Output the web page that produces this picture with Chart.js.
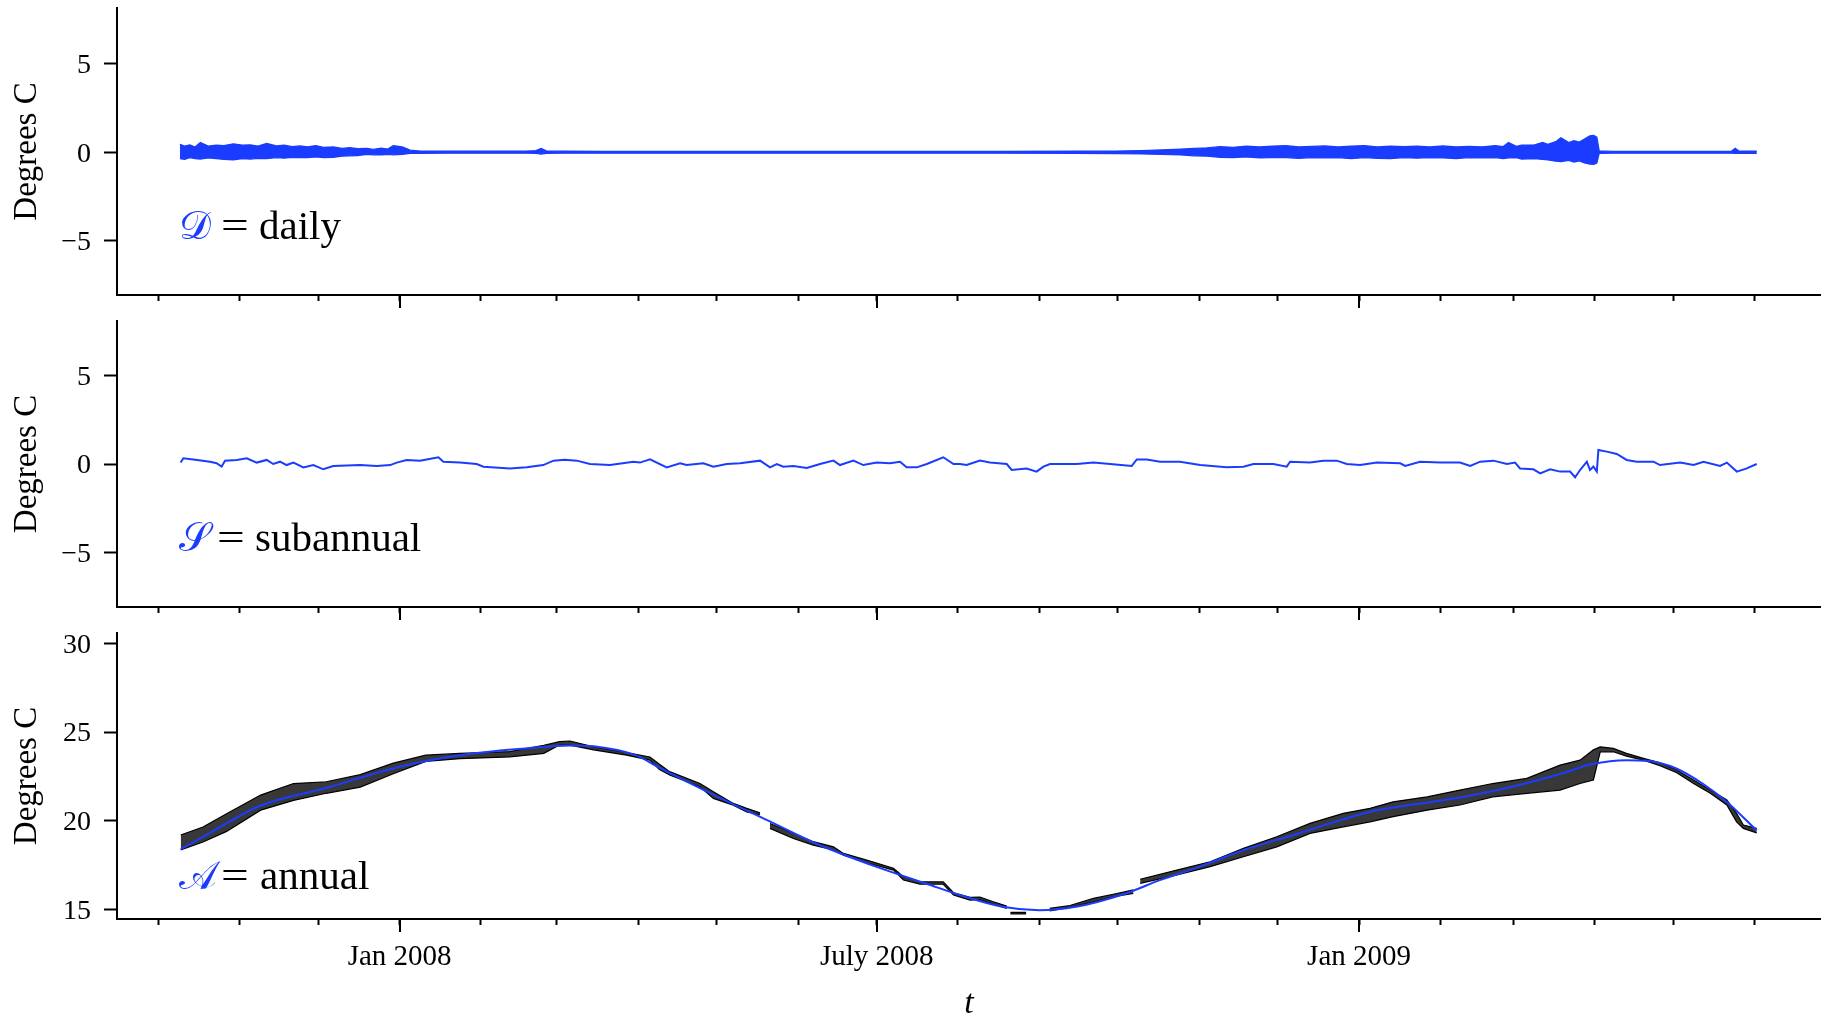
<!DOCTYPE html>
<html>
<head>
<meta charset="utf-8">
<script src="https://cdn.jsdelivr.net/npm/chart.js@4.4.1/dist/chart.umd.min.js"></script>
<style>
  html, body { margin: 0; padding: 0; background: #fff; }
  body { width: 1832px; height: 1019px; position: relative; overflow: hidden; }
  canvas { position: absolute; left: 0; }
</style>
</head>
<body>
<canvas id="pDaily"></canvas>
<canvas id="pSub"></canvas>
<canvas id="pAnnual"></canvas>
<script>
// Time is measured in days since 1 Oct 2007.
const monthStarts = [
  '2007-10', '2007-11', '2007-12', '2008-01', '2008-02', '2008-03', '2008-04',
  '2008-05', '2008-06', '2008-07', '2008-08', '2008-09', '2008-10', '2008-11',
  '2008-12', '2009-01', '2009-02', '2009-03', '2009-04', '2009-05', '2009-06'
];
const monthLabels = { '2008-01': 'Jan 2008', '2008-07': 'July 2008', '2009-01': 'Jan 2009' };

const anomalyTicks = [-5, 0, 5];
const temperatureTicks = [15, 20, 25, 30];

// Daily component: upper / lower extent of the daily cycle.
const dailyDays = [
  8.2, 10, 12, 14, 16, 19, 22, 25, 28.6, 32,
  35, 38, 41.3, 45, 48, 51, 54, 57, 60, 63,
  66.7, 70, 73, 76, 79.5, 82, 85, 87.5, 89.6, 93,
  96, 100, 110, 120, 130, 140, 144, 146, 148, 155,
  170, 200, 230, 260, 290, 320, 350, 365, 375, 383,
  390, 395, 400, 405, 410, 415, 420, 425, 430, 435,
  440, 445, 450, 455, 460, 465, 470, 475, 480, 485,
  490, 495, 500, 505, 510, 513, 515, 518, 520, 525,
  528, 530, 533, 535, 538, 540, 542, 544, 546, 547.5,
  548.7, 549.6, 555, 570, 590, 600, 601.5, 603, 609.7
];
const dailyHigh = [
  0.45, 0.35, 0.42, 0.30, 0.55, 0.35, 0.40, 0.38, 0.48, 0.40,
  0.42, 0.35, 0.50, 0.36, 0.40, 0.32, 0.36, 0.30, 0.38, 0.28,
  0.30, 0.22, 0.26, 0.20, 0.22, 0.16, 0.24, 0.18, 0.38, 0.30,
  0.12, 0.07, 0.06, 0.07, 0.06, 0.06, 0.10, 0.22, 0.08, 0.06,
  0.05, 0.05, 0.05, 0.05, 0.05, 0.05, 0.06, 0.07, 0.10, 0.14,
  0.18, 0.22, 0.25, 0.32, 0.28, 0.35, 0.30, 0.34, 0.38, 0.30,
  0.33, 0.36, 0.30, 0.34, 0.38, 0.30, 0.35, 0.32, 0.34, 0.30,
  0.36, 0.30, 0.33, 0.30, 0.38, 0.32, 0.55, 0.33, 0.40, 0.42,
  0.55, 0.45, 0.60, 0.82, 0.55, 0.65, 0.58, 0.75, 0.92, 0.95,
  0.85, 0.08, 0.05, 0.05, 0.05, 0.06, 0.22, 0.06, 0.06
];
const dailyLow = [
  -0.35, -0.40, -0.30, -0.35, -0.38, -0.32, -0.35, -0.40, -0.42, -0.36,
  -0.38, -0.34, -0.36, -0.30, -0.33, -0.28, -0.30, -0.30, -0.26, -0.30,
  -0.28, -0.22, -0.20, -0.18, -0.12, -0.14, -0.15, -0.12, -0.14, -0.12,
  -0.06, -0.06, -0.05, -0.05, -0.05, -0.05, -0.06, -0.10, -0.06, -0.05,
  -0.05, -0.05, -0.05, -0.05, -0.05, -0.05, -0.06, -0.07, -0.09, -0.12,
  -0.15, -0.20, -0.22, -0.28, -0.30, -0.26, -0.32, -0.30, -0.30, -0.34,
  -0.30, -0.32, -0.30, -0.36, -0.30, -0.34, -0.36, -0.30, -0.33, -0.30,
  -0.32, -0.35, -0.30, -0.32, -0.30, -0.35, -0.32, -0.30, -0.38, -0.36,
  -0.40, -0.42, -0.50, -0.52, -0.45, -0.55, -0.48, -0.60, -0.66, -0.68,
  -0.60, -0.06, -0.05, -0.05, -0.05, -0.05, -0.06, -0.05, -0.06
];

// Subannual component.
const subDays = [
  8.5, 9.5, 13.3, 19.7, 22.2, 24.1, 25.4, 29.9, 33.7, 37.5,
  41.3, 43.8, 46.4, 48.9, 51.5, 55.3, 59.1, 62.9, 66.7, 71.8,
  76.9, 83.3, 88.4, 90.9, 94.7, 99.8, 102.3, 106.8, 108.7, 115,
  121.4, 124, 134.1, 140.5, 146.8, 150.7, 155, 159.6, 164.6, 172.3,
  181.2, 183.7, 187.5, 193.9, 199, 201.5, 207.9, 211.7, 216.8, 221.9,
  229.5, 233.3, 235.9, 238.4, 242.2, 247.3, 252.4, 257.5, 260, 265.1,
  268.9, 274, 279.1, 282.9, 285.4, 289.3, 293.1, 299.4, 303.3, 305.8,
  308.3, 313.4, 317.2, 323.6, 325.5, 331.2, 335, 337.6, 340.1, 350.3,
  356.7, 363, 371.3, 373.2, 377, 382.1, 389.7, 397.4, 407.5, 413.9,
  417.7, 425.3, 430.4, 431.7, 439.3, 444.4, 449.5, 453.3, 458.4, 464.8,
  473.7, 475.6, 481.3, 488.9, 496.5, 500.4, 504.2, 509.3, 514.4, 517.5,
  519.4, 524.5, 527.1, 530.9, 534.7, 538.5, 540.4, 542.3, 544.9, 546.1,
  547.4, 548.7, 549.3, 552.5, 556.3, 560.1, 563.9, 570.3, 572.8, 580.5,
  585.6, 589.4, 595.7, 598.3, 602.1, 605.9, 609.7
];
const subValues = [
  0.08, 0.32, 0.26, 0.13, 0.04, -0.15, 0.19, 0.23, 0.32, 0.08,
  0.23, 0.00, 0.13, -0.06, 0.08, -0.19, -0.06, -0.30, -0.11, -0.09,
  -0.06, -0.11, -0.06, 0.08, 0.23, 0.19, 0.26, 0.38, 0.13, 0.08,
  0.00, -0.15, -0.26, -0.19, -0.06, 0.19, 0.24, 0.19, 0.00, -0.06,
  0.13, 0.08, 0.26, -0.19, 0.04, -0.06, 0.04, -0.15, 0.00, 0.04,
  0.19, -0.19, 0.00, -0.15, -0.11, -0.23, 0.00, 0.19, -0.06, 0.19,
  -0.06, 0.08, 0.04, 0.13, -0.19, -0.19, 0.00, 0.38, 0.00, 0.00,
  -0.06, 0.19, 0.08, 0.00, -0.34, -0.26, -0.43, -0.15, 0.00, 0.00,
  0.08, 0.00, -0.11, 0.26, 0.26, 0.13, 0.13, -0.06, -0.19, -0.15,
  0.00, 0.00, -0.15, 0.13, 0.08, 0.19, 0.19, 0.00, -0.05, 0.08,
  0.04, -0.11, 0.13, 0.08, 0.08, -0.11, 0.13, 0.19, 0.00, 0.08,
  -0.25, -0.30, -0.53, -0.30, -0.43, -0.43, -0.75, -0.34, 0.13, -0.34,
  -0.15, -0.43, 0.79, 0.70, 0.57, 0.23, 0.13, 0.13, -0.06, 0.08,
  -0.06, 0.13, -0.11, 0.08, -0.43, -0.25, 0.00
];

// Annual component (smooth seasonal curve).
const annualDays = [
  8.5, 20, 38.8, 64, 92, 115, 140, 157, 166, 182,
  191, 212, 232, 252, 274, 293, 306, 322, 336, 350,
  369, 382, 397, 414, 433, 462, 478, 496, 516, 535,
  547, 560, 568, 579, 589, 598, 609.7
];
const annualValues = [
  18.40, 19.35, 20.85, 21.85, 23.05, 23.70, 24.08, 24.25, 24.20, 23.70,
  23.00, 21.45, 20.05, 18.65, 17.40, 16.45, 15.80, 15.15, 14.96, 15.15,
  15.90, 16.65, 17.40, 18.35, 19.20, 20.50, 20.90, 21.30, 21.90, 22.65,
  23.20, 23.42, 23.38, 22.95, 22.10, 21.10, 19.45
];

// Observed temperatures: lower / upper extent of the readings (null = no data).
const rawDays = [
  8.5, 17, 26, 39, 51.5, 64, 77, 89.6, 102, 115,
  134, 147, 153, 157, 166, 178.6, 187.5, 191, 195, 206.6,
  211.7, 219.3, 224.4, 229.5, 231, 233.3, 242.2, 249.8, 257.5, 261.3,
  270.2, 280.4, 284.2, 290.5, 299.4, 303.3, 309.6, 313.4, 318.5, 323.6,
  324.5, 325, 331, 332, 340, 347.7, 356.7, 365.6, 371.9, 373,
  374.5, 388.5, 401.2, 413.9, 426.6, 439.3, 452, 462.2, 471, 484,
  496.5, 509, 522, 534.7, 542.3, 547.4, 550, 555, 560, 566.5,
  572.8, 579.2, 585.6, 592, 598.3, 602, 604.6, 609.7
];
const rawLow = [
  18.35, 18.80, 19.40, 20.60, 21.15, 21.55, 21.90, 22.65, 23.35, 23.50,
  23.60, 23.80, 24.27, 24.27, 24.00, 23.70, 23.42, 22.90, 22.58, 21.92,
  21.26, 20.88, 20.50, 20.35, null, 19.57, 19.00, 18.63, 18.35, 18.06,
  17.63, 17.22, 16.66, 16.43, 16.42, 15.81, 15.53, 15.55, 15.30, 15.06,
  null, 14.75, 14.75, null, 14.92, 15.12, 15.43, 15.75, 15.90, null,
  16.47, 16.94, 17.41, 17.97, 18.53, 19.29, 19.66, 19.94, 20.23, 20.60,
  20.89, 21.35, 21.55, 21.73, 22.10, 22.30, 23.89, 23.89, 23.65, 23.42,
  23.10, 22.71, 22.10, 21.55, 20.89, 19.94, 19.57, 19.32
];
const rawHigh = [
  19.20, 19.65, 20.40, 21.45, 22.10, 22.20, 22.60, 23.25, 23.70, 23.80,
  23.90, 24.25, 24.46, 24.50, 24.17, 23.85, 23.60, 23.20, 22.77, 22.10,
  21.64, 20.98, 20.70, 20.45, null, 19.85, 19.30, 18.82, 18.53, 18.16,
  17.78, 17.32, 16.84, 16.56, 16.55, 15.94, 15.68, 15.70, 15.43, 15.19,
  null, 14.83, 14.83, null, 15.06, 15.22, 15.62, 15.90, 16.10, null,
  16.70, 17.22, 17.69, 18.44, 19.10, 19.85, 20.42, 20.70, 21.07, 21.35,
  21.73, 22.10, 22.39, 23.14, 23.42, 24.00, 24.17, 24.08, 23.80, 23.52,
  23.27, 22.86, 22.30, 21.73, 21.17, 20.42, 19.76, 19.57
];

// ---------------------------------------------------------------------------
const BLUE = '#1a3cff';
const SERIF = '"Liberation Serif", "Times New Roman", serif';
const SCRIPT = '"DejaVu Serif", "DejaVu Sans", "Noto Sans", serif';
const DAY0 = Date.UTC(2007, 9, 1);
const dayOf = ym => (Date.parse(ym + '-01T00:00:00Z') - DAY0) / 864e5;
const pts = (xs, ys) => xs.map((x, i) => ({ x: x, y: ys[i] }));

const X_MIN = -15.8, X_MAX = 634.1;
const PAGE_W = 1832, AXIS_LEFT = 117, AXIS_RIGHT = 1820.7;
const PAD_TOP = 45;
const TICK_FONT = { family: SERIF, size: 28 };

function xAxis(withLabels, boxHeight) {
  return {
    type: 'linear', position: 'bottom', min: X_MIN, max: X_MAX,
    afterBuildTicks: s => { s.ticks = monthStarts.map(m => ({ value: dayOf(m) })); },
    afterFit: s => { s.height = boxHeight; },
    grid: { drawOnChartArea: false, drawTicks: true, tickLength: 6, tickWidth: 2, tickColor: '#000' },
    border: { display: true, color: '#000', width: 2 },
    ticks: {
      autoSkip: false, maxRotation: 0, minRotation: 0, padding: 15, color: '#000',
      font: { family: SERIF, size: 29 },
      callback: (v, i) => withLabels ? (monthLabels[monthStarts[i]] || '') : ''
    },
    title: withLabels
      ? { display: true, text: 't', color: '#000', padding: { top: 0, bottom: -2 },
          font: { family: SERIF, size: 34, style: 'italic', lineHeight: 1 } }
      : { display: false }
  };
}

function yAxis(min, max, tickValues) {
  return {
    type: 'linear', position: 'left', min: min, max: max,
    afterBuildTicks: s => { s.ticks = tickValues.map(v => ({ value: v })); },
    afterFit: s => { s.width = AXIS_LEFT; },
    grid: { drawOnChartArea: false, drawTicks: true, tickLength: 13, tickWidth: 2, tickColor: '#000' },
    border: { display: true, color: '#000', width: 2 },
    ticks: {
      padding: 13, color: '#000', labelOffset: 2,
      font: TICK_FONT,
      callback: v => v < 0 ? '\u2212' + Math.abs(v) : String(v)
    },
    title: { display: true, text: 'Degrees C', color: '#000', padding: { top: 8, bottom: 0 },
             font: { family: SERIF, size: 33, lineHeight: 1.2 } }
  };
}

// Longer tick marks at the labelled months.
const majorTicks = {
  id: 'majorTicks',
  afterDraw(chart) {
    const xs = chart.scales.x, ctx = chart.ctx;
    ctx.save();
    ctx.strokeStyle = '#000';
    ctx.lineWidth = 2;
    Object.keys(monthLabels).forEach(m => {
      const x = Math.round(xs.getPixelForValue(dayOf(m)));
      ctx.beginPath();
      ctx.moveTo(x, xs.top);
      ctx.lineTo(x, xs.top + 13);
      ctx.stroke();
    });
    ctx.restore();
  }
};

// Component name written inside each panel.
function panelLabel(letter, word, dy, eqDx, wordDx) {
  return {
    id: 'panelLabel',
    afterDraw(chart) {
      const ctx = chart.ctx, a = chart.chartArea;
      const x0 = a.left + 62, y = a.top + dy;
      ctx.save();
      ctx.textBaseline = 'alphabetic';
      ctx.textAlign = 'left';
      ctx.fillStyle = BLUE;
      ctx.font = '40px ' + SCRIPT;
      ctx.fillText(letter, x0, y);
      ctx.fillStyle = '#000';
      ctx.font = '41px ' + SERIF;
      ctx.translate(x0 + eqDx, y);
      ctx.scale(1.2, 1);
      ctx.fillText('=', 0, 0);
      ctx.restore();
      ctx.save();
      ctx.fillStyle = '#000';
      ctx.textBaseline = 'alphabetic';
      ctx.font = '41px ' + SERIF;
      ctx.fillText(word, x0 + wordDx, y);
      ctx.restore();
    }
  };
}

function makePanel(id, chartTop, chartBottom, boxBelow, withLabels, yMin, yMax, yTicks, datasets, label) {
  const cv = document.getElementById(id);
  const h = PAD_TOP + (chartBottom - chartTop) + boxBelow;
  cv.width = PAGE_W;
  cv.height = h;
  cv.style.top = (chartTop - PAD_TOP) + 'px';
  return new Chart(cv, {
    type: 'line',
    data: { datasets: datasets },
    options: {
      responsive: false, animation: false, devicePixelRatio: 1,
      layout: { padding: { top: PAD_TOP, left: 0, right: PAGE_W - AXIS_RIGHT, bottom: 0 } },
      plugins: { legend: { display: false }, tooltip: { enabled: false } },
      elements: { point: { radius: 0 }, line: { tension: 0 } },
      scales: { x: xAxis(withLabels, boxBelow), y: yAxis(yMin, yMax, yTicks) }
    },
    plugins: [majorTicks, label]
  });
}

// Panel 1: daily component
makePanel('pDaily', 8, 295, 40, false, -8.05, 8.14, anomalyTicks, [
  { data: pts(dailyDays, dailyHigh), borderColor: BLUE, borderWidth: 1.3, fill: false },
  { data: pts(dailyDays, dailyLow), borderColor: BLUE, borderWidth: 1.3, backgroundColor: BLUE, fill: '-1' }
], panelLabel('\u{1D49F}', 'daily', 231.3, 42, 80));

// Panel 2: subannual component
makePanel('pSub', 321, 607, 40, false, -8.09, 8.09, anomalyTicks, [
  { data: pts(subDays, subValues), borderColor: BLUE, borderWidth: 2, fill: false }
], panelLabel('\u{1D4AE}', 'subannual', 229.7, 38, 76));

// Panel 3: observations with the annual component
makePanel('pAnnual', 633, 919, 100, true, 14.46, 30.59, temperatureTicks, [
  { data: pts(annualDays, annualValues), borderColor: BLUE, borderWidth: 2, fill: false,
    cubicInterpolationMode: 'monotone', order: 0 },
  { data: pts(rawDays, rawHigh), borderColor: '#000', borderWidth: 1.2, fill: false, spanGaps: false, order: 1 },
  { data: pts(rawDays, rawLow), borderColor: '#000', borderWidth: 1.2, backgroundColor: 'rgba(0,0,0,0.78)',
    fill: '-1', spanGaps: false, order: 2 }
], panelLabel('\u{1D49C}', 'annual', 256.3, 42, 81));
</script>
</body>
</html>
